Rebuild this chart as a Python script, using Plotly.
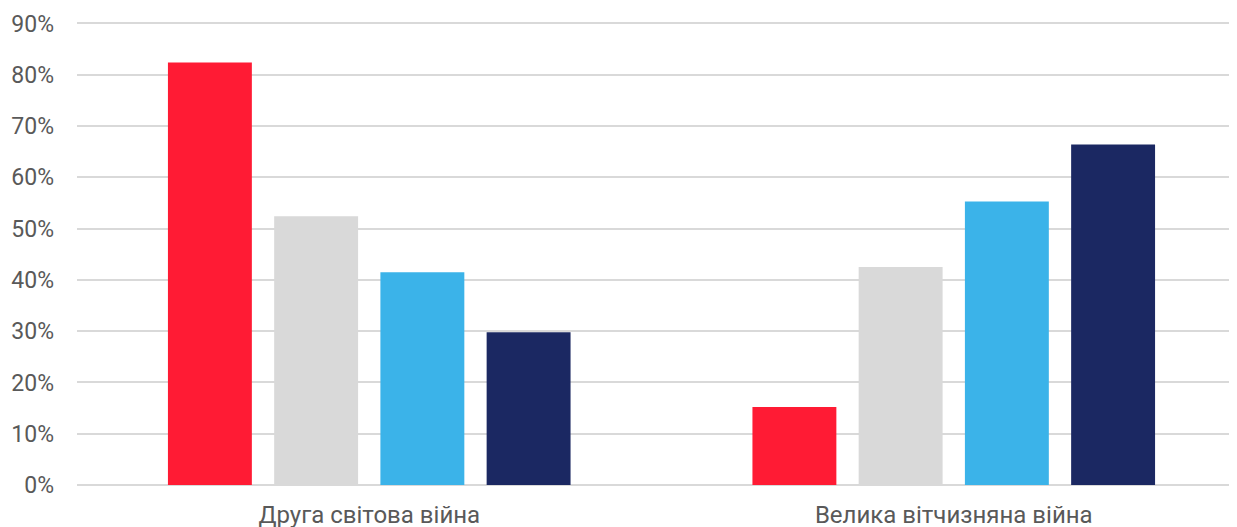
import plotly.graph_objects as go

categories = ["Друга світова війна", "Велика вітчизняна війна"]
series1 = [0.824, 0.152]
series2 = [0.524, 0.425]
series3 = [0.415, 0.553]
series4 = [0.298, 0.664]
colors = ["#FF1B34", "#D9D9D9", "#3BB3E9", "#1B2862"]
ytick_vals = [0, 0.1, 0.2, 0.3, 0.4, 0.5, 0.6, 0.7, 0.8, 0.9]

fig = go.Figure()
for vals, c in zip([series1, series2, series3, series4], colors):
    fig.add_trace(go.Bar(x=categories, y=vals, marker=dict(color=c, line=dict(width=0)),
                         showlegend=False, hoverinfo="skip"))

fig.update_layout(
    width=1229, height=519,
    margin=dict(l=69, r=0, t=12, b=42),
    paper_bgcolor="white", plot_bgcolor="white",
    barmode="group", bargap=0.273, bargroupgap=0.21,
    font=dict(family="Roboto", size=22, color="#595959"),
    xaxis=dict(range=[-0.5, 1.4846], showgrid=False, showline=False, ticks="",
               automargin=False, ticklabelstandoff=13,
               tickfont=dict(size=24, color="#595959")),
    yaxis=dict(range=[0, 0.9068], tickvals=ytick_vals, tickformat=".0%",
               showgrid=True, gridcolor="#D9D9D9", gridwidth=1.5,
               zeroline=True, zerolinecolor="#D9D9D9", zerolinewidth=1.5,
               showline=False, ticks="", ticklabelstandoff=22, automargin=False,
               tickfont=dict(size=23, color="#595959")),
)

fig.write_html("out.html")
